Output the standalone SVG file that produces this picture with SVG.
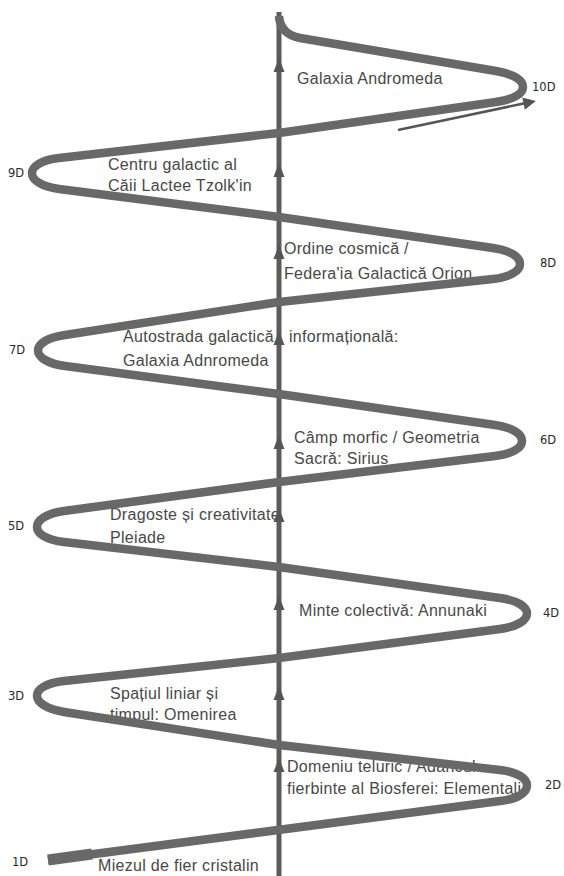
<svg xmlns="http://www.w3.org/2000/svg" width="564" height="876" viewBox="0 0 564 876">
<style>
.t{font-family:"Liberation Sans",Arial,sans-serif;font-size:16px;fill:#484848;letter-spacing:0.3px}
.d{font-family:"DejaVu Sans",sans-serif;font-size:11.5px;fill:#2a2a2a}
.spiral{fill:none;stroke:#686868;stroke-width:8.5;stroke-linejoin:round;stroke-linecap:butt}
.axis{stroke:#5c5c5c;stroke-width:5}
.ah{fill:#555}
.small{stroke:#555;stroke-width:2.5;fill:none}
</style>
<defs>
<path id="ah" d="M0,0 L5.5,14 L-5.5,14 Z"/>
<marker id="mk" viewBox="0 0 10 10" refX="2" refY="5" markerWidth="6" markerHeight="5" orient="auto" markerUnits="strokeWidth">
<path d="M0,0 L10,5 L0,10 Z" fill="#555"/>
</marker>
</defs>
<rect width="564" height="876" fill="#fff"/>

<g id="n10">
<text class="t" x="297" y="84">Galaxia Andromeda</text>
</g>
<g id="n9">
<text class="t" x="108" y="170">Centru galactic al</text>
<text class="t" x="108" y="191">Căii Lactee Tzolk'in</text>
</g>
<g id="n8">
<text class="t" x="284" y="254">Ordine cosmică /</text>
<text class="t" x="284" y="279">Federa'ia Galactică Orion</text>
</g>
<g id="n7">
<text class="t" x="123" y="342">Autostrada galactică</text>
<text class="t" x="289" y="342">informațională:</text>
<text class="t" x="123" y="366">Galaxia Adnromeda</text>
</g>
<g id="n6">
<text class="t" x="294" y="443">Câmp morfic / Geometria</text>
<text class="t" x="294" y="464">Sacră: Sirius</text>
</g>
<g id="n5">
<text class="t" x="110" y="520">Dragoste și creativitate</text>
<text class="t" x="110" y="543">Pleiade</text>
</g>
<g id="n4">
<text class="t" x="299" y="616">Minte colectivă: Annunaki</text>
</g>
<g id="n3">
<text class="t" x="110" y="699">Spațiul liniar și</text>
<text class="t" x="110" y="720">timpul: Omenirea</text>
</g>
<g id="n2">
<text class="t" x="287" y="772">Domeniu teluric / Adâncul</text>
<text class="t" x="287" y="794">fierbinte al Biosferei: Elementali</text>
</g>
<g id="n1">
<text class="t" x="98" y="871">Miezul de fier cristalin</text>
</g>

<g id="connectors">
<line class="axis" x1="279" y1="12" x2="279" y2="876"/>
<path class="spiral" d="M279,16 Q280,34 300,38 L496,71 C532,77 532,97 496,102 L279,133 L59,158 C23,162 23,184 59,189 L279,217 L493,248 C529,253 529,275 493,279 L279,302 L65,335 C29,340 29,361 65,366 L279,394 L495,425 C531,430 531,452 495,456 L279,482 L64,511 C28,516 28,538 64,542 L279,567 L500,598 C536,603 536,624 500,629 L279,658 L64,681 C28,685 28,706 64,712 L279,745 L500,770 C536,774 536,797 500,801 L48,860"/>
<line x1="48" y1="860" x2="92" y2="854" stroke="#686868" stroke-width="11"/>
<use href="#ah" class="ah" x="279" y="58"/>
<use href="#ah" class="ah" x="279" y="163"/>
<use href="#ah" class="ah" x="279" y="245"/>
<use href="#ah" class="ah" x="279" y="331"/>
<use href="#ah" class="ah" x="279" y="435"/>
<use href="#ah" class="ah" x="279" y="508"/>
<use href="#ah" class="ah" x="279" y="596"/>
<use href="#ah" class="ah" x="279" y="686"/>
<use href="#ah" class="ah" x="279" y="758"/>
<line class="small" x1="398" y1="130" x2="526" y2="103" marker-end="url(#mk)"/>
</g>

<g id="labels">
<text class="d" x="532" y="91">10D</text>
<text class="d" x="8" y="177">9D</text>
<text class="d" x="540" y="267">8D</text>
<text class="d" x="9" y="354">7D</text>
<text class="d" x="540" y="444">6D</text>
<text class="d" x="8" y="530">5D</text>
<text class="d" x="543" y="617">4D</text>
<text class="d" x="8" y="700">3D</text>
<text class="d" x="545" y="789">2D</text>
<text class="d" x="12" y="866">1D</text>
</g>
</svg>
